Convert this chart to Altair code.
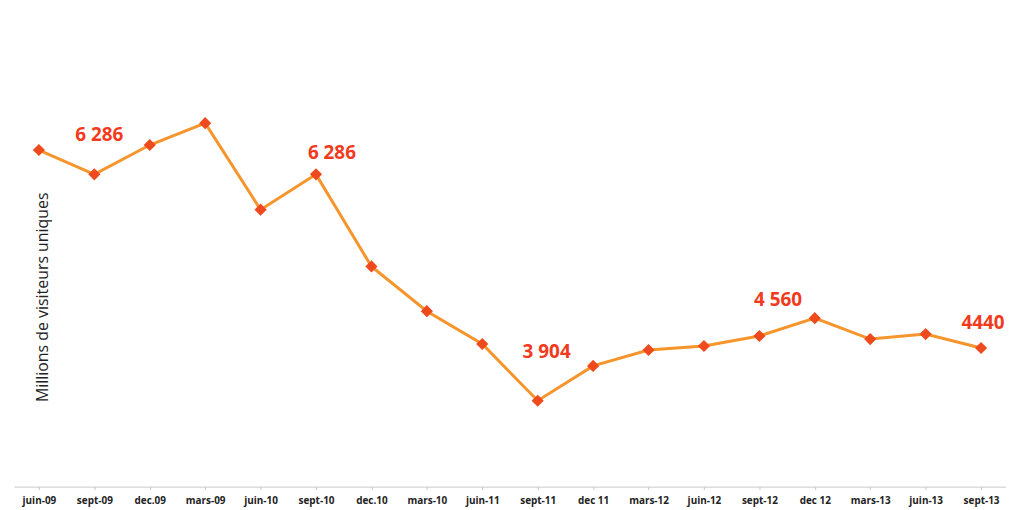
import altair as alt
import pandas as pd

periods = ["juin-09", "sept-09", "dec.09", "mars-09", "juin-10", "sept-10", "dec.10",
           "mars-10", "juin-11", "sept-11", "dec 11", "mars-12", "juin-12", "sept-12",
           "dec 12", "mars-13", "juin-13", "sept-13"]
visitors = [6542, 6286, 6595, 6825, 5914, 6286, 5317, 4846, 4501, 3904, 4270, 4438,
            4480, 4585, 4773, 4553, 4605, 4459]
value_labels = ["", "6 286", "", "", "", "6 286", "", "", "", "3 904", "", "", "", "",
                "4 560", "", "", "4440"]

df = pd.DataFrame({"period": periods, "visitors": visitors, "label": value_labels,
                   "idx": list(range(len(periods)))})

LINE = "#f5952c"
MARK = "#ee4a1e"
LABEL = "#f23a1c"

x = alt.X("period:N", sort=periods,
          scale=alt.Scale(type="point", padding=0.45),
          axis=alt.Axis(title=None, labelAngle=0, labelFont="Open Sans", labelFontSize=10,
                        labelFontWeight="bold", labelColor="#222", domainColor="#c8c8c8",
                        tickColor="#c8c8c8", tickSize=3, labelPadding=6, grid=False))
y = alt.Y("visitors:Q",
          scale=alt.Scale(domain=[3000, 8000], zero=False, nice=False),
          axis=alt.Axis(title="Millions de visiteurs uniques", labels=False, ticks=False,
                        domain=False, grid=False, titleFont="Open Sans", titleFontSize=16,
                        titleFontWeight="normal", titleColor="#222", titleX=29, titleY=287,
                        titleBaseline="middle", titleAlign="center"))

base = alt.Chart(df).encode(x=x, y=y)

line = base.mark_line(color=LINE, strokeWidth=3)
pts = base.mark_point(shape="diamond", filled=True, size=150, color=MARK, opacity=1)

offsets = {1: (5, -40), 5: (16, -21), 9: (9, -49), 14: (-37, -18), 17: (2, -25)}
texts = []
for i, (dx, dy) in offsets.items():
    texts.append(
        base.transform_filter(alt.datum.idx == i).mark_text(
            dx=dx, dy=dy, font="Open Sans", fontSize=19, fontWeight="bold",
            color=LABEL, align="center", baseline="middle"
        ).encode(text="label:N")
    )

chart = alt.layer(line, pts, *texts).properties(
    width=998, height=478,
    padding={"left": 6, "top": 2, "right": 0, "bottom": 0},
    background="white",
).configure_view(stroke=None)

chart.save("out.html", embed_options={"renderer": "svg", "actions": False})
